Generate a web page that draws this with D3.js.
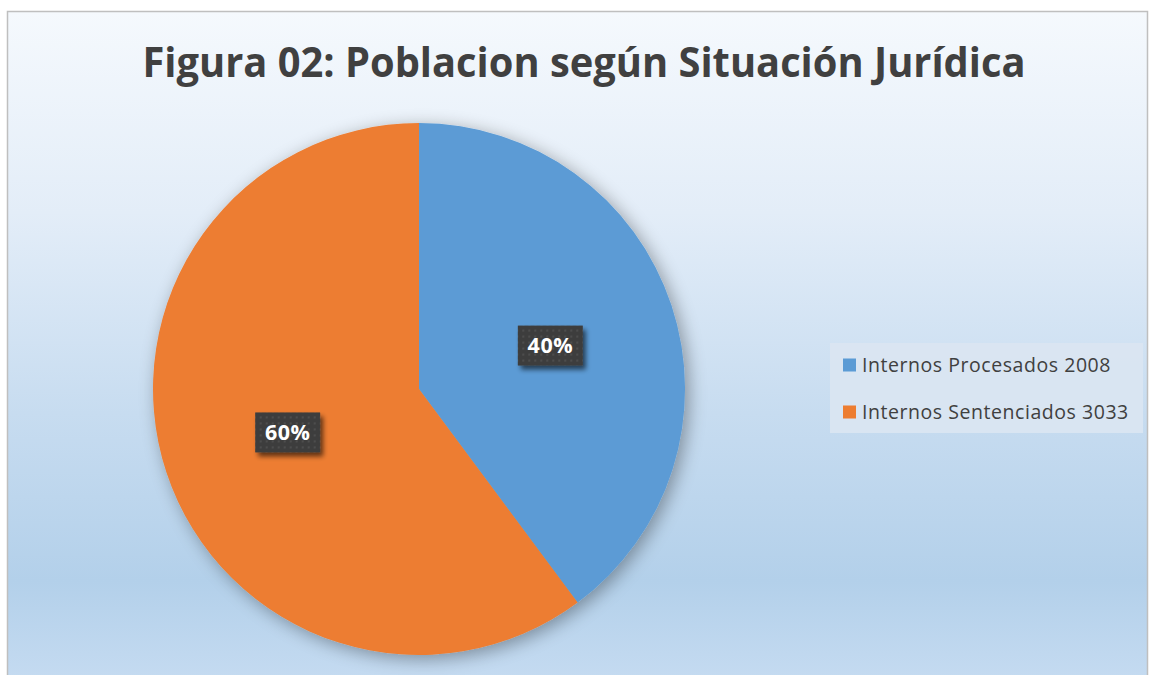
<!DOCTYPE html>
<html><head><meta charset="utf-8">
<script src="https://cdn.jsdelivr.net/npm/d3@7"></script>
<style>html,body{margin:0;padding:0;background:#fff;overflow:hidden}</style>
</head><body>
<svg id="c" width="1149" height="675"></svg>
<script>
const categories = ["Internos Procesados 2008", "Internos Sentenciados 3033"];
const values = [2008, 3033];
const colors = ["#5b9bd5", "#ed7d31"];
const title = "Figura 02: Poblacion según Situación Jurídica";

const svg = d3.select("#c");
const defs = svg.append("defs");
const bg = defs.append("linearGradient").attr("id","bg").attr("x1",0).attr("y1",0).attr("x2",0).attr("y2",1);
[[0,"#f5f9fd"],[0.3,"#e3edf8"],[0.6,"#c7dcf0"],[0.85,"#b3d0ea"],[1,"#c5dbf1"]].forEach(s=>bg.append("stop").attr("offset",s[0]).attr("stop-color",s[1]));
const sh = defs.append("filter").attr("id","sh").attr("x","-20%").attr("y","-20%").attr("width","140%").attr("height","140%");
sh.append("feGaussianBlur").attr("in","SourceAlpha").attr("stdDeviation",9).attr("result","b");
sh.append("feOffset").attr("in","b").attr("dx",4).attr("dy",4).attr("result","o");
sh.append("feComponentTransfer").attr("in","o").attr("result","o2").append("feFuncA").attr("type","linear").attr("slope",0.35);
const m = sh.append("feMerge"); m.append("feMergeNode").attr("in","o2"); m.append("feMergeNode").attr("in","SourceGraphic");
const sh2 = defs.append("filter").attr("id","sh2").attr("x","-30%").attr("y","-30%").attr("width","160%").attr("height","160%");
sh2.append("feGaussianBlur").attr("in","SourceAlpha").attr("stdDeviation",2.5).attr("result","b");
sh2.append("feOffset").attr("in","b").attr("dx",3).attr("dy",4).attr("result","o");
sh2.append("feComponentTransfer").attr("in","o").attr("result","o2").append("feFuncA").attr("type","linear").attr("slope",0.6);
const m2 = sh2.append("feMerge"); m2.append("feMergeNode").attr("in","o2"); m2.append("feMergeNode").attr("in","SourceGraphic");
const pat = defs.append("pattern").attr("id","dots").attr("width",6).attr("height",6).attr("patternUnits","userSpaceOnUse");
pat.append("rect").attr("width",6).attr("height",6).attr("fill","#3d3d3d");
pat.append("rect").attr("x",2).attr("y",2).attr("width",2).attr("height",2).attr("fill","#4e4e4e");

svg.append("rect").attr("x",7.5).attr("y",11.5).attr("width",1140).attr("height",670)
  .attr("fill","url(#bg)").attr("stroke","#bfbfbf").attr("stroke-width",1.5);

svg.append("text").attr("x",584).attr("y",77).attr("text-anchor","middle")
  .attr("font-family","'Open Sans', sans-serif").attr("font-weight","bold").attr("font-size",41)
  .attr("fill","#404040").attr("textLength",883).attr("lengthAdjust","spacingAndGlyphs").text(title);

const cx = 419, cy = 389, r = 266;
const pie = d3.pie().sort(null).value(d=>d)(values);
const arc = d3.arc().innerRadius(0).outerRadius(r);
const g = svg.append("g").attr("transform",`translate(${cx},${cy})`);
g.append("g").attr("filter","url(#sh)").selectAll("path").data(pie).join("path")
  .attr("d",arc).attr("fill",(d,i)=>colors[i]);

const total = d3.sum(values);
const fmt = d3.format(".0%");
const labelArc = d3.arc().innerRadius(r*0.52).outerRadius(r*0.52);
const lab = g.selectAll("g.lab").data(pie).join("g").attr("class","lab")
  .attr("transform",d=>{const c=labelArc.centroid(d);return `translate(${c[0]},${c[1]})`;});
lab.append("rect").attr("x",-32.5).attr("y",-20).attr("width",65).attr("height",40)
  .attr("fill","url(#dots)").attr("filter","url(#sh2)");
lab.append("text").attr("text-anchor","middle").attr("dy","0.36em")
  .attr("font-family","'Open Sans', sans-serif").attr("font-weight","bold").attr("font-size",21.5)
  .attr("letter-spacing",0.5).attr("fill","#fff").text(d=>fmt(d.data/total));

const lg = svg.append("g");
lg.append("rect").attr("x",830).attr("y",343).attr("width",313).attr("height",90).attr("fill","#dae6f2").attr("opacity",0.9);
const items = lg.selectAll("g").data(categories).join("g")
  .attr("transform",(d,i)=>`translate(843,${365+i*47})`);
items.append("rect").attr("x",0).attr("y",-6.5).attr("width",13).attr("height",13).attr("fill",(d,i)=>colors[i]);
items.append("text").attr("x",19).attr("y",0).attr("dy","0.36em")
  .attr("font-family","'Open Sans', sans-serif").attr("font-size",19.5).attr("letter-spacing",0.55)
  .attr("fill","#404040").text(d=>d);
</script>
</body></html>
